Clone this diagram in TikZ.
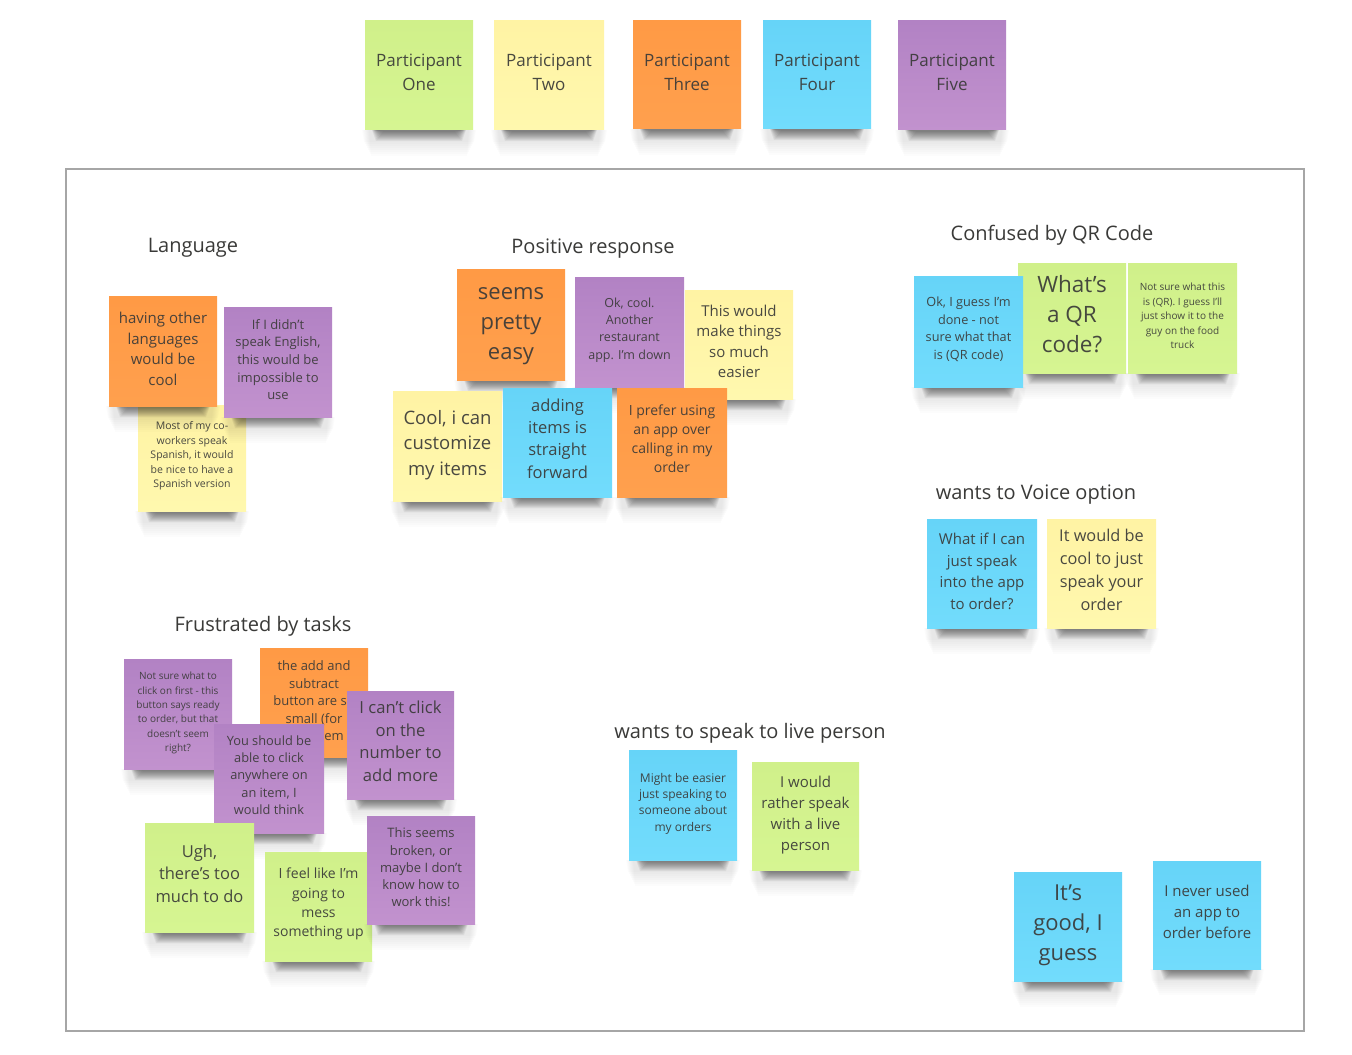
\documentclass[tikz,border=0pt]{standalone}
\usepackage{fontspec}
\setmainfont{Open Sans}
\definecolor{greentop}{HTML}{D0F08A}\definecolor{greenbot}{HTML}{D6F592}
\definecolor{yellowtop}{HTML}{FFF3A4}\definecolor{yellowbot}{HTML}{FFF8AE}
\definecolor{orangetop}{HTML}{FF9A45}\definecolor{orangebot}{HTML}{FFA04E}
\definecolor{bluetop}{HTML}{66D4F8}\definecolor{bluebot}{HTML}{72DCFC}
\definecolor{purpletop}{HTML}{B282C4}\definecolor{purplebot}{HTML}{C292CE}
\definecolor{framegray}{HTML}{A6A6A6}
\definecolor{inkgray}{HTML}{3A3A38}
\tikzset{
  stickynote/.style={rectangle,inner sep=0pt,outer sep=0pt,draw=none},
  stickytext/.style={inner sep=0pt,align=center,text=inkgray,text opacity=.92},
  grouptitle/.style={inner sep=0pt,text=inkgray,font=\fontsize{15pt}{18pt}\selectfont},
  framebox/.style={rectangle,inner sep=0pt,draw=framegray,line width=.9pt},
}
% name, x0, y0, x1, y1, colour, font px, line px, text centre y, then {text}
\def\sticky#1#2#3#4#5#6#7#8#9{%
  \def\stickyname{#1}\def\stickycol{#6}\def\stickycy{#9}%
  \pgfmathsetmacro\stickycx{(#2+#4)/2}%
  \pgfmathsetmacro\stickyw{(#4-#2)*.75}%
  \pgfmathsetmacro\stickyh{(#5-#3)*.75}%
  \pgfmathsetmacro\stickyfs{#7*.75}%
  \pgfmathsetmacro\stickyls{#8*.75}%
  \foreach \i in {0,...,7}{%
    \fill[black,opacity=.012] ({#2+4-\i},#5) -- ({#4-4+\i},#5) -- ({#4-6+\i},{#5+26-\i*2}) -- ({#2+6-\i},{#5+26-\i*2}) -- cycle;
  }%
  \foreach \i in {0,...,9}{%
    \fill[black,opacity=.055] ({#2+7+\i*.5},#5) -- ({#4-7-\i*.5},#5) -- ({#4-11-\i*.9},{#5+11-\i}) -- ({#2+11+\i*.9},{#5+11-\i}) -- cycle;
  }%
  \node[stickynote,top color=#6top,bottom color=#6bot,minimum width=\stickyw pt,minimum height=\stickyh pt] (#1) at (\stickycx,{(#3+#5)/2}) {};%
  \stickytext}
\def\stickytext#1{%
  \node[stickytext,font=\fontsize{\stickyfs pt}{\stickyls pt}\selectfont] (\stickyname-text) at (\stickycx,\stickycy) {#1};}
\begin{document}
\begin{tikzpicture}[x=.75pt,y=-.75pt]
\useasboundingbox (0,0) rectangle (1352,1055);
\fill[white] (0,0) rectangle (1352,1055);
\node[framebox,minimum width=928.5pt,minimum height=646.5pt] (frame) at (685,600) {};
% participants
\sticky{pone}{365}{21}{473}{130}{green}{17}{24}{72}{Participant\\One}
\sticky{ptwo}{494}{21}{604}{130}{yellow}{17}{24}{72}{Participant\\Two}
\sticky{pthree}{633}{21}{741}{129}{orange}{17}{24}{72}{Participant\\Three}
\sticky{pfour}{763}{21}{871}{129}{blue}{17}{24}{72}{Participant\\Four}
\sticky{pfive}{898}{21}{1006}{130}{purple}{17}{24}{72}{Participant\\Five}
% titles
\node[grouptitle] (tlang) at (193,248) {Language};
\node[grouptitle] (tpos) at (593,249) {Positive response};
\node[grouptitle] (tqr) at (1052,235) {Confused by QR Code};
\node[grouptitle] (tvoice) at (1036,495) {wants to Voice option};
\node[grouptitle] (tfrus) at (263,626) {Frustrated by tasks};
\node[grouptitle] (tlive) at (750,733) {wants to speak to live person};
% language
\sticky{la}{138}{405}{246}{511}{yellow}{10.5}{14.5}{456}{Most of my co-\\workers speak\\Spanish, it would\\be nice to have a\\Spanish version}
\sticky{lb}{109}{297}{217}{406}{orange}{15}{20.7}{349}{having other\\languages\\would be\\cool}
\sticky{lc}{224}{308}{332}{417}{purple}{13}{17.7}{359.5}{If I didn't\\speak English,\\this would be\\impossible to\\use}
% positive
\sticky{pa}{457}{270}{565}{380}{orange}{22}{30}{326}{seems\\pretty\\easy}
\sticky{pb}{575}{278}{684}{387}{purple}{12.5}{17.3}{330}{Ok, cool.\\Another\\restaurant\\app. I'm down}
\sticky{pc}{685}{291}{793}{399}{yellow}{15}{20.5}{341.5}{This would\\make things\\so much\\easier}
\sticky{pd}{393}{391}{502}{501}{yellow}{18.5}{25.5}{445}{Cool, i can\\customize\\my items}
\sticky{pe}{503}{388}{612}{497}{blue}{16.5}{22.3}{438.5}{adding\\items is\\straight\\forward}
\sticky{pf}{617}{388}{727}{497}{orange}{14}{19}{438.5}{I prefer using\\an app over\\calling in my\\order}
% QR
\sticky{qb}{1018}{264}{1126}{373}{green}{22.5}{30}{314}{What's\\a QR\\code?}
\sticky{qa}{914}{277}{1023}{387}{blue}{12.7}{17.5}{329.5}{Ok, I guess I'm\\done - not\\sure what that\\is (QR code)}
\sticky{qc}{1128}{264}{1237}{373}{green}{10}{14.5}{316}{Not sure what this\\is (QR). I guess I'll\\just show it to the\\guy on the food\\truck}
% voice
\sticky{va}{927}{519}{1037}{628}{blue}{15}{21.5}{571.5}{What if I can\\just speak\\into the app\\to order?}
\sticky{vb}{1047}{519}{1156}{628}{yellow}{16.3}{22.8}{570}{It would be\\cool to just\\speak your\\order}
% frustrated
\sticky{fa}{124}{659}{232}{769}{purple}{10}{14.4}{713}{Not sure what to\\click on first - this\\button says ready\\to order, but that\\doesn't seem\\right?}
\sticky{fb}{260}{648}{368}{757}{orange}{13}{17.5}{701}{the add and\\subtract\\button are so\\small (for\\each item}
\sticky{fc}{214}{724}{324}{833}{purple}{12.8}{17.3}{775}{You should be\\able to click\\anywhere on\\an item, I\\would think}
\sticky{fd}{347}{691}{454}{799}{purple}{16.6}{22.5}{741.5}{I can't click\\on the\\number to\\add more}
\sticky{fe}{145}{823}{254}{932}{green}{16.5}{22.5}{873.5}{Ugh,\\there's too\\much to do}
\sticky{ff}{265}{852}{372}{961}{green}{14}{19.3}{904}{I feel like I'm\\going to\\mess\\something up}
\sticky{fg}{367}{816}{475}{924}{purple}{13}{17.3}{867.5}{This seems\\broken, or\\maybe I don't\\know how to\\work this!}
% live
\sticky{ea}{629}{750}{737}{860}{blue}{12}{16.3}{803.5}{Might be easier\\just speaking to\\someone about\\my orders}
\sticky{eb}{752}{762}{859}{870}{green}{15}{21}{815.5}{I would\\rather speak\\with a live\\person}
% bottom right
\sticky{ba}{1014}{872}{1122}{981}{blue}{22}{30}{925}{It's\\good, I\\guess}
\sticky{bb}{1153}{861}{1261}{969}{blue}{15}{21}{912}{I never used\\an app to\\order before}
\end{tikzpicture}
\end{document}
